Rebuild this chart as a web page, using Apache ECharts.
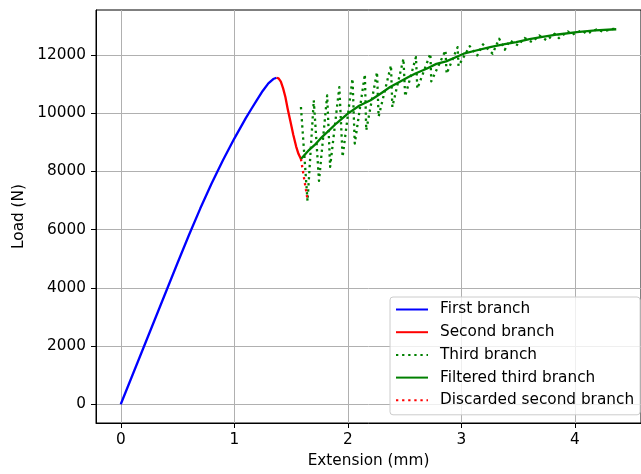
<!DOCTYPE html>
<html>
<head>
<meta charset="utf-8">
<script src="https://cdn.jsdelivr.net/npm/echarts@6/dist/echarts.min.js"></script>
<style>
  html, body { margin: 0; padding: 0; background: #fff; }
  #chart { width: 641px; height: 474px; }
</style>
</head>
<body>
<div id="chart"></div>
<script>
// Load-extension record of a tensile test, split into branches.
const firstBranchX = [0, 0.1, 0.2, 0.3, 0.4, 0.5, 0.6, 0.7, 0.8, 0.9, 1.0, 1.1, 1.15, 1.2, 1.25, 1.3, 1.343, 1.36, 1.372];
const firstBranchY = [0, 970, 1940, 2910, 3880, 4850, 5805, 6720, 7580, 8380, 9125, 9820, 10140, 10455, 10760, 11020, 11170, 11205, 11214];

const secondBranchX = [1.372, 1.39, 1.41, 1.43, 1.45, 1.47, 1.495, 1.52, 1.545, 1.565, 1.587];
const secondBranchY = [11214, 11190, 11080, 10850, 10550, 10150, 9700, 9250, 8850, 8600, 8423];

const thirdBranchX = [1.587, 1.645, 1.700, 1.746, 1.818, 1.844, 1.925, 1.954, 2.041, 2.061, 2.150, 2.162, 2.257, 2.271,
  2.380, 2.392, 2.490, 2.505, 2.600, 2.612, 2.727, 2.735, 2.860, 2.870, 2.967, 2.975, 3.074, 3.140, 3.190, 3.275,
  3.333, 3.383, 3.426, 3.500, 3.556, 3.622, 3.686, 3.752, 3.821, 3.859, 3.937, 3.974, 4.061, 4.104, 4.190, 4.242, 4.340, 4.364];
const thirdBranchY = [10209, 6980, 10440, 7672, 10611, 8152, 10895, 8495, 11183, 8954, 11330, 9410, 11409, 9880,
  11639, 10209, 11869, 10576, 11923, 10840, 12040, 11090, 12153, 11354, 12266, 11615, 12300, 11980, 12360, 12040,
  12555, 12177, 12496, 12324, 12580, 12437, 12667, 12496, 12725, 12575, 12804, 12691, 12838, 12725, 12873, 12804, 12896, 12873];

const filteredX = [1.587, 1.65, 1.706, 1.76, 1.821, 1.9, 2.0, 2.1, 2.2, 2.3, 2.372, 2.45, 2.53, 2.6, 2.693, 2.78, 2.866,
  2.95, 3.02, 3.13, 3.253, 3.37, 3.483, 3.6, 3.714, 3.85, 4.017, 4.18, 4.364];
const filteredY = [8423, 8700, 8896, 9130, 9352, 9650, 9980, 10250, 10440, 10700, 10895, 11060, 11230, 11370, 11525, 11690, 11776,
  11920, 12040, 12150, 12266, 12360, 12437, 12540, 12620, 12700, 12780, 12840, 12880];

const discardedX = [1.587, 1.615, 1.645];
const discardedY = [8423, 7750, 7030];

const xTicks = [0, 1, 2, 3, 4];
const yTicks = [0, 2000, 4000, 6000, 8000, 10000, 12000];

const seriesNames = ['First branch', 'Second branch', 'Third branch', 'Filtered third branch', 'Discarded second branch'];

const pairs = (xs, ys) => xs.map((x, i) => [x, ys[i]]);

const FONT = 'DejaVu Sans';
const FS = 15.3;
const LW = 2.3;
const dotted = [2.3, 3.8];

function lineSeries(name, data, color, type) {
  return {
    name: name,
    type: 'line',
    data: data,
    symbol: 'none',
    showSymbol: false,
    animation: false,
    lineStyle: { color: color, width: LW, type: type, cap: 'butt', join: 'round' },
    itemStyle: { color: color },
    emphasis: { disabled: true }
  };
}

const chart = echarts.init(document.getElementById('chart'), null, { renderer: 'canvas' });

chart.setOption({
  backgroundColor: '#ffffff',
  animation: false,
  textStyle: { fontFamily: FONT },
  grid: {
    left: 96, top: 10, width: 554.4, height: 413,
    show: true, borderColor: '#000', borderWidth: 1, backgroundColor: 'transparent'
  },
  legend: {
    orient: 'vertical',
    left: 390, top: 297,
    padding: [4, 6, 6, 5],
    itemWidth: 32, itemHeight: 17, itemGap: 5.7,
    backgroundColor: 'rgba(255,255,255,0.8)',
    borderColor: '#cccccc', borderWidth: 1, borderRadius: 3,
    itemStyle: { color: 'transparent', borderColor: 'transparent', borderWidth: 0, opacity: 0 },
    textStyle: { fontFamily: FONT, fontSize: FS, color: '#000', lineHeight: 17, padding: [0, 0, 0, 7] },
    data: seriesNames,
    selectedMode: false
  },
  xAxis: {
    type: 'value',
    min: -0.218, max: 4.582,
    name: 'Extension (mm)',
    nameLocation: 'middle', nameGap: 31,
    nameTextStyle: { fontFamily: FONT, fontSize: FS, color: '#000' },
    axisLine: { onZero: false, lineStyle: { color: '#000', width: 1 } },
    axisTick: { show: true, length: 5, lineStyle: { color: '#000', width: 1 }, customValues: xTicks },
    axisLabel: { customValues: xTicks, margin: 10, fontFamily: FONT, fontSize: FS, color: '#000', formatter: v => String(v) },
    splitLine: { show: true, lineStyle: { color: '#b0b0b0', width: 1 } }
  },
  yAxis: {
    type: 'value',
    min: -645, max: 13541,
    name: 'Load (N)',
    nameLocation: 'middle', nameGap: 66, nameRotate: 90,
    nameTextStyle: { fontFamily: FONT, fontSize: FS, color: '#000' },
    axisLine: { show: true, onZero: false, lineStyle: { color: '#000', width: 1 } },
    axisTick: { show: true, length: 5, lineStyle: { color: '#000', width: 1 }, customValues: yTicks },
    axisLabel: { customValues: yTicks, margin: 10, fontFamily: FONT, fontSize: FS, color: '#000', formatter: v => String(v) },
    splitLine: { show: true, lineStyle: { color: '#b0b0b0', width: 1 } }
  },
  series: [
    lineSeries(seriesNames[0], pairs(firstBranchX, firstBranchY), '#0000ff', 'solid'),
    lineSeries(seriesNames[1], pairs(secondBranchX, secondBranchY), '#ff0000', 'solid'),
    lineSeries(seriesNames[2], pairs(thirdBranchX, thirdBranchY), '#008000', dotted),
    lineSeries(seriesNames[3], pairs(filteredX, filteredY), '#008000', 'solid'),
    lineSeries(seriesNames[4], pairs(discardedX, discardedY), '#ff0000', dotted)
  ]
});
</script>
</body>
</html>
